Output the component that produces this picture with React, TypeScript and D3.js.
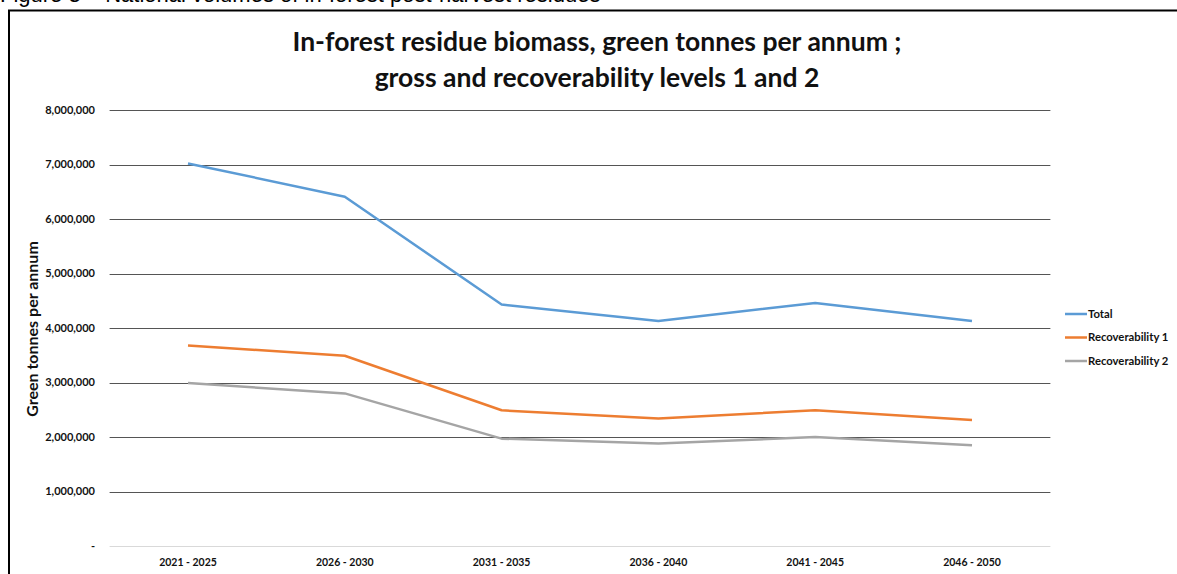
import React from "react";
import * as d3 from "d3";

const categories = ["2021 - 2025", "2026 - 2030", "2031 - 2035", "2036 - 2040", "2041 - 2045", "2046 - 2050"];
const totalValues = [7020000, 6410000, 4430000, 4130000, 4460000, 4130000];
const rec1Values = [3680000, 3490000, 2490000, 2340000, 2490000, 2310000];
const rec2Values = [2990000, 2800000, 1970000, 1880000, 2000000, 1850000];
const yTicks = [0, 1000000, 2000000, 3000000, 4000000, 5000000, 6000000, 7000000, 8000000];
const seriesNames = ["Total", "Recoverability 1", "Recoverability 2"];
const seriesColors = ["#5B9BD5", "#ED7D31", "#A5A5A5"];

const W = 1177;
const H = 574;
const plotLeft = 109.6;
const plotRight = 1050.4;
const plotTop = 110;
const plotBottom = 546;
const font = "Lato, 'Open Sans', sans-serif";

export default function App() {
  const x = d3.scaleBand<string>().domain(categories).range([plotLeft, plotRight]);
  const y = d3.scaleLinear().domain([0, 8000000]).range([plotBottom, plotTop]);
  const fmt = d3.format(",");
  const line = d3
    .line<number>()
    .x((_, i) => (x(categories[i]) as number) + x.bandwidth() / 2)
    .y((d) => y(d));
  const series = [totalValues, rec1Values, rec2Values];

  return (
    <svg
      width={W}
      height={H}
      style={{ position: "absolute", left: 0, top: 0, background: "#fff" }}
      fontFamily={font}
    >
      <rect x={0} y={0} width={W} height={H} fill="#fff" />
      <text x={0} y={2} fontFamily="'Liberation Sans', Arial, sans-serif" fontSize={22} fill="#000">
        Figure 3 – National volumes of in-forest post-harvest residues
      </text>
      <rect x={9} y={10.5} width={W + 10} height={H + 10} fill="none" stroke="#000" strokeWidth={2} />

      <text x={597} y={51} textAnchor="middle" fontSize={26.5} fontWeight="bold" fill="#111">
        In-forest residue biomass, green tonnes per annum ;
      </text>
      <text x={597} y={87} textAnchor="middle" fontSize={26.5} fontWeight="bold" fill="#111">
        gross and recoverability levels 1 and 2
      </text>

      {yTicks.map((t) => (
        <g key={t}>
          <line
            x1={plotLeft}
            x2={plotRight}
            y1={Math.round(y(t)) + 0.5}
            y2={Math.round(y(t)) + 0.5}
            stroke={t === 0 ? "#d9d9d9" : "#555"}
            strokeWidth={1}
          />
          <text
            x={95}
            y={y(t)}
            dy="0.35em"
            textAnchor="end"
            fontSize={11}
            fontWeight="bold"
            fill="#111"
          >
            {t === 0 ? "-" : fmt(t)}
          </text>
        </g>
      ))}

      {categories.map((c) => (
        <text
          key={c}
          x={(x(c) as number) + x.bandwidth() / 2}
          y={566}
          textAnchor="middle"
          fontSize={10.5}
          fontWeight="bold"
          fill="#111"
        >
          {c}
        </text>
      ))}

      <text
        transform={`translate(38,${(plotTop + plotBottom) / 2 + 1}) rotate(-90)`}
        textAnchor="middle"
        fontSize={16}
        fontWeight="bold"
        fill="#111"
      >
        Green tonnes per annum
      </text>

      {series.map((vals, i) => (
        <path
          key={seriesNames[i]}
          d={line(vals) as string}
          fill="none"
          stroke={seriesColors[i]}
          strokeWidth={2.5}
          strokeLinejoin="round"
        />
      ))}

      {seriesNames.map((n, i) => (
        <g key={n} transform={`translate(1065,${314 + i * 23.5})`}>
          <line x1={0} x2={22} y1={0} y2={0} stroke={seriesColors[i]} strokeWidth={2.5} />
          <text x={23} y={0} dy="0.35em" fontSize={11.3} fontWeight="bold" fill="#111">
            {n}
          </text>
        </g>
      ))}
    </svg>
  );
}
